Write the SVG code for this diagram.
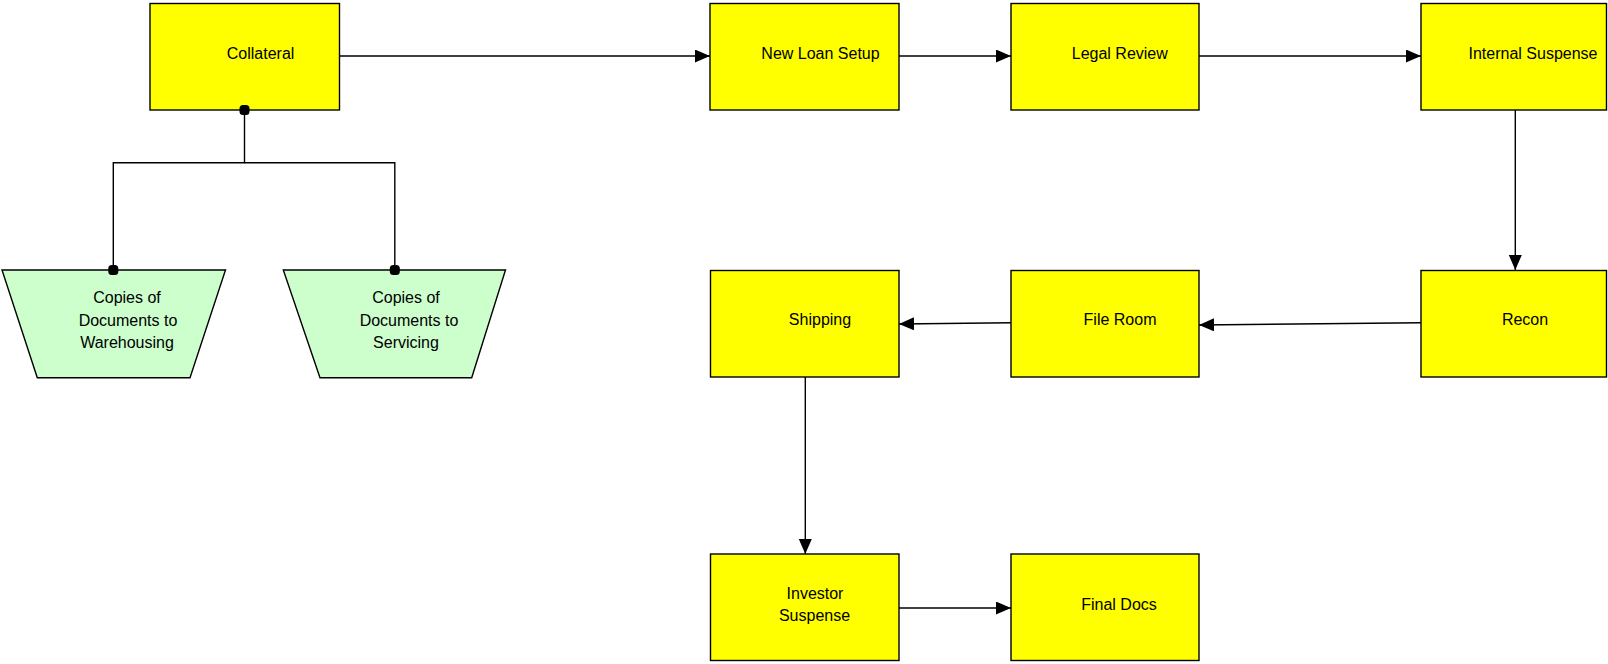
<svg xmlns="http://www.w3.org/2000/svg" width="1608" height="664" viewBox="0 0 1608 664">
<style>
.box{fill:#ffff00;stroke:#000;stroke-width:1.4}
.trap{fill:#ccffcc;stroke:#000;stroke-width:1.4}
.lbl{font-family:"Liberation Sans",Arial,sans-serif;font-size:16px;fill:#000;text-anchor:middle}
.con{fill:none;stroke:#000;stroke-width:1.4}
.arr{marker-end:url(#arrow)}
</style>
<defs>
<marker id="arrow" markerUnits="userSpaceOnUse" markerWidth="16" markerHeight="14" refX="15" refY="6.5" orient="auto">
<path d="M0,0 L15,6.5 L0,13 z" fill="#000"/>
</marker>
<marker id="dot" markerUnits="userSpaceOnUse" markerWidth="14" markerHeight="14" refX="6" refY="6" orient="auto">
<rect x="1" y="1" width="10" height="10" rx="3.5" fill="#000"/>
</marker>
</defs>
<rect width="1608" height="664" fill="#fff"/>
<g id="collateral">
<rect class="box" x="150" y="3.5" width="189.5" height="106.5"/>
<text class="lbl" x="260.6" y="58.7">Collateral</text>
</g>
<g id="new-loan-setup">
<rect class="box" x="710" y="3.5" width="189" height="106.5"/>
<text class="lbl" x="820.5" y="58.7">New Loan Setup</text>
</g>
<g id="legal-review">
<rect class="box" x="1011" y="3.5" width="188" height="106.5"/>
<text class="lbl" x="1119.8" y="58.7">Legal Review</text>
</g>
<g id="internal-suspense">
<rect class="box" x="1421" y="3.5" width="185.5" height="106.5"/>
<text class="lbl" x="1533" y="58.7">Internal Suspense</text>
</g>
<g id="recon">
<rect class="box" x="1421" y="270.5" width="185.5" height="106.5"/>
<text class="lbl" x="1525" y="325">Recon</text>
</g>
<g id="file-room">
<rect class="box" x="1011" y="270.5" width="188" height="106.5"/>
<text class="lbl" x="1120" y="325">File Room</text>
</g>
<g id="shipping">
<rect class="box" x="710.5" y="270.5" width="188.5" height="106.5"/>
<text class="lbl" x="820" y="325">Shipping</text>
</g>
<g id="investor-suspense">
<rect class="box" x="710.5" y="554" width="188.5" height="106.5"/>
<text class="lbl" x="815" y="599.3">Investor</text>
<text class="lbl" x="814.5" y="621">Suspense</text>
</g>
<g id="final-docs">
<rect class="box" x="1011" y="554" width="188" height="106.5"/>
<text class="lbl" x="1119" y="610">Final Docs</text>
</g>
<g id="copies-warehousing">
<polygon class="trap" points="2,270 225.5,270 190,377.7 37.3,377.7"/>
<text class="lbl" x="127" y="302.7">Copies of</text>
<text class="lbl" x="128" y="325.5">Documents to</text>
<text class="lbl" x="127" y="348.3">Warehousing</text>
</g>
<g id="copies-servicing">
<polygon class="trap" points="283.3,270 505.5,270 471.7,377.7 320,377.7"/>
<text class="lbl" x="406" y="302.7">Copies of</text>
<text class="lbl" x="409" y="325.5">Documents to</text>
<text class="lbl" x="406" y="348.3">Servicing</text>
</g>
<g id="connectors">
<path class="con arr" d="M339.5,56 H710"/>
<path class="con arr" d="M899,56 H1011"/>
<path class="con arr" d="M1199,56 H1421"/>
<path class="con arr" d="M1515.3,110 V270"/>
<path class="con arr" d="M1421,322.7 L1199,325"/>
<path class="con arr" d="M1011,322.7 L899,324"/>
<path class="con arr" d="M805.3,377 V554"/>
<path class="con arr" d="M899,608 H1011"/>
<path class="con" d="M244.5,110 V162.7 H113.3 V270" marker-start="url(#dot)" marker-end="url(#dot)"/>
<path class="con" d="M244.5,162.7 H394.8 V270" marker-end="url(#dot)"/>
</g>
</svg>
